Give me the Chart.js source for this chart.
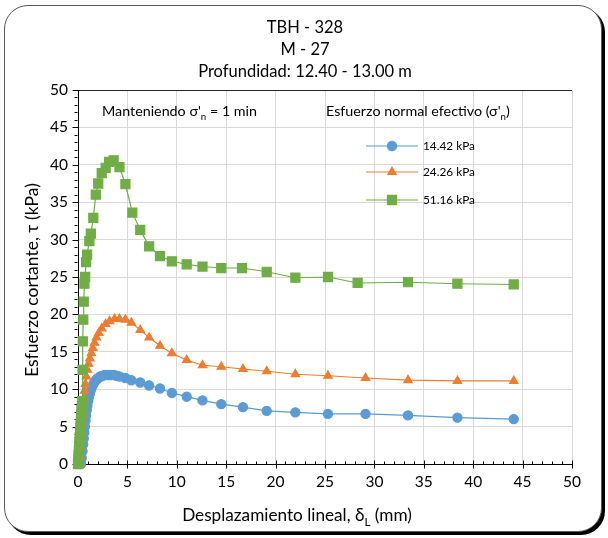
<!DOCTYPE html>
<html>
<head>
<meta charset="utf-8">
<script src="https://cdn.jsdelivr.net/npm/chart.js@4/dist/chart.umd.min.js"></script>
<style>
  html, body { margin: 0; padding: 0; background: #fff; }
  #marco {
    position: absolute; left: 4px; top: 5px; width: 596px; height: 525px;
    border: 1px solid #595959; border-radius: 24px;
    box-shadow: 3px 3px 0 #000; background: #fff;
  }
  #grafico { position: absolute; left: 0; top: 0; }
</style>
</head>
<body>
<div id="marco"></div>
<canvas id="grafico" width="608" height="538"></canvas>
<script>
// Esfuerzo normal efectivo 14.42 kPa
const desp14 = [0.30, 0.38, 0.45, 0.52, 0.58, 0.64, 0.70, 0.76, 0.82, 0.88, 0.95, 1.02, 1.10, 1.20, 1.30, 1.42, 1.55, 1.70, 1.87, 2.05, 2.25, 2.48, 2.72, 3.00, 3.30, 3.60, 3.90, 4.20, 4.80, 5.40, 6.30, 7.20, 8.30, 9.50, 11.0, 12.6, 14.5, 16.7, 19.1, 22.0, 25.3, 29.1, 33.4, 38.4, 44.1];
const tau14  = [0.0, 0.8, 1.7, 2.6, 3.4, 4.2, 5.0, 5.8, 6.5, 7.2, 7.8, 8.4, 8.9, 9.4, 9.9, 10.3, 10.7, 11.0, 11.3, 11.5, 11.7, 11.8, 11.9, 11.9, 11.9, 11.9, 11.8, 11.7, 11.5, 11.2, 10.9, 10.5, 10.1, 9.5, 9.0, 8.5, 8.0, 7.6, 7.1, 6.9, 6.7, 6.7, 6.5, 6.2, 6.0];

// 24.26 kPa
const desp24 = [0.20, 0.25, 0.30, 0.35, 0.40, 0.45, 0.50, 0.55, 0.60, 0.67, 0.75, 0.85, 0.95, 1.07, 1.20, 1.35, 1.50, 1.67, 1.87, 2.10, 2.40, 2.80, 3.20, 3.70, 4.20, 4.80, 5.40, 6.30, 7.20, 8.30, 9.50, 11.0, 12.6, 14.5, 16.7, 19.1, 22.0, 25.3, 29.1, 33.4, 38.4, 44.1];
const tau24  = [0.0, 1.1, 2.2, 3.3, 4.4, 5.5, 6.6, 7.7, 8.8, 9.8, 10.7, 11.7, 12.6, 13.4, 14.1, 14.8, 15.5, 16.2, 16.9, 17.5, 18.1, 18.7, 19.1, 19.4, 19.4, 19.3, 18.9, 17.9, 16.9, 15.8, 14.8, 13.9, 13.2, 13.0, 12.7, 12.4, 12.0, 11.8, 11.5, 11.2, 11.1, 11.1];

// 51.16 kPa
const desp51 = [0.00, 0.03, 0.06, 0.09, 0.12, 0.15, 0.18, 0.21, 0.24, 0.27, 0.30, 0.33, 0.36, 0.40, 0.43, 0.46, 0.49, 0.53, 0.58, 0.65, 0.72, 0.82, 0.92, 1.15, 1.30, 1.55, 1.80, 2.05, 2.40, 2.80, 3.15, 3.60, 4.20, 4.80, 5.50, 6.30, 7.20, 8.30, 9.50, 11.0, 12.6, 14.5, 16.6, 19.1, 22.0, 25.3, 28.3, 33.4, 38.4, 44.1];
const tau51  = [0.0, 0.6, 1.2, 1.8, 2.4, 3.0, 3.6, 4.2, 4.8, 5.4, 6.0, 6.6, 7.2, 7.8, 8.4, 12.6, 16.4, 19.3, 21.7, 24.1, 25.0, 27.0, 28.0, 29.8, 30.8, 32.9, 36.0, 37.5, 38.9, 39.6, 40.4, 40.6, 39.7, 37.4, 33.6, 31.3, 29.1, 27.8, 27.1, 26.7, 26.4, 26.2, 26.2, 25.7, 24.9, 25.0, 24.2, 24.3, 24.1, 24.0];

const etiquetas = ['14.42 kPa', '24.26 kPa', '51.16 kPa'];
const titulos = ['TBH - 328', 'M - 27', 'Profundidad: 12.40 - 13.00 m'];

const FUENTE = 'Lato, "Open Sans", sans-serif';

function puntos(xs, ys) {
  return xs.map((v, i) => ({ x: v, y: ys[i] }));
}

// texto con subindices: partes = [[texto, esSub], ...]
function textoRico(ctx, partes, x, y, tam, alinear) {
  let ancho = 0;
  partes.forEach(([t, sub]) => {
    ctx.font = (sub ? tam * 0.68 : tam) + 'px ' + FUENTE;
    ancho += ctx.measureText(t).width;
  });
  let cx = alinear === 'center' ? x - ancho / 2 : x;
  ctx.textAlign = 'left';
  ctx.textBaseline = 'alphabetic';
  partes.forEach(([t, sub]) => {
    ctx.font = (sub ? tam * 0.68 : tam) + 'px ' + FUENTE;
    ctx.fillText(t, cx, sub ? y + tam * 0.3 : y);
    cx += ctx.measureText(t).width;
  });
}

const extras = {
  id: 'extras',
  beforeDatasetsDraw(chart) {
    const { ctx, scales: { x, y } } = chart;
    ctx.save();
    ctx.strokeStyle = '#000';
    ctx.lineWidth = 1;
    ctx.beginPath();
    const by = Math.round(y.bottom) + 0.5;
    const lx = Math.round(x.left) - 0.5;
    for (let v = 0; v <= 50; v++) {
      const mayor = v % 5 === 0;
      const px = Math.round(x.getPixelForValue(v)) + 0.5;
      if (mayor) { ctx.moveTo(px, by - 4); ctx.lineTo(px, by + 4); }
      else { ctx.moveTo(px, by - 3); ctx.lineTo(px, by); }
      const py = Math.round(y.getPixelForValue(v)) + 0.5;
      if (mayor) { ctx.moveTo(lx - 5, py); ctx.lineTo(lx + 1, py); }
      else { ctx.moveTo(lx - 3, py); ctx.lineTo(lx, py); }
    }
    ctx.stroke();
    ctx.restore();
  },
  afterDraw(chart) {
    const { ctx, chartArea: a } = chart;
    ctx.save();
    ctx.fillStyle = '#000';

    // titulo
    ctx.font = '16.5px ' + FUENTE;
    ctx.textAlign = 'center';
    ctx.textBaseline = 'middle';
    titulos.forEach((t, i) => ctx.fillText(t, 305, 28 + i * 22));

    // eje x
    textoRico(ctx, [['Desplazamiento lineal, δ', false], ['L', true], [' (mm)', false]], 297, 521, 17.2, 'center');

    // eje y
    ctx.save();
    ctx.translate(32, 280);
    ctx.rotate(-Math.PI / 2);
    ctx.font = '17.5px ' + FUENTE;
    ctx.textAlign = 'center';
    ctx.textBaseline = 'middle';
    ctx.fillText('Esfuerzo cortante, τ (kPa)', 0, 0);
    ctx.restore();

    // anotaciones
    textoRico(ctx, [['Manteniendo σ\'', false], ['n', true], [' = 1 min', false]], a.left + 24, 116, 14.3, 'left');
    textoRico(ctx, [['Esfuerzo normal efectivo (σ\'', false], ['n', true], [')', false]], a.left + 248, 116, 14.3, 'left');

    // leyenda
    const ds = chart.data.datasets;
    const yLey = [146, 172, 200];
    ds.forEach((d, i) => {
      const yl = yLey[i];
      ctx.strokeStyle = d.borderColor;
      ctx.lineWidth = 1.2;
      ctx.beginPath();
      ctx.moveTo(366, yl);
      ctx.lineTo(418, yl);
      ctx.stroke();
      ctx.fillStyle = d.pointBackgroundColor;
      ctx.strokeStyle = d.pointBackgroundColor;
      Chart.helpers.drawPoint(ctx, { pointStyle: d.pointStyle, radius: d.pointRadius, rotation: 0, borderWidth: 1 }, 392, yl);
      ctx.fillStyle = '#000';
      ctx.font = '11.8px ' + FUENTE;
      ctx.textAlign = 'left';
      ctx.textBaseline = 'middle';
      ctx.fillText(etiquetas[i], 423, yl);
    });
    ctx.restore();
  }
};

const colorGrid = c => (c.tick && c.tick.value === 50 ? '#262626' : '#d9d9d9');

new Chart(document.getElementById('grafico'), {
  type: 'scatter',
  data: {
    datasets: [
      {
        label: etiquetas[0],
        data: puntos(desp14, tau14),
        showLine: true,
        borderColor: '#5b9bd5',
        backgroundColor: '#5b9bd5',
        pointBackgroundColor: '#5b9bd5',
        pointBorderColor: '#5b9bd5',
        borderWidth: 1.2,
        pointStyle: 'circle',
        pointRadius: 4.6,
        order: 2,
        clip: false
      },
      {
        label: etiquetas[1],
        data: puntos(desp24, tau24),
        showLine: true,
        borderColor: '#ed7d31',
        backgroundColor: '#ed7d31',
        pointBackgroundColor: '#ed7d31',
        pointBorderColor: '#ed7d31',
        borderWidth: 1.2,
        pointStyle: 'triangle',
        pointRadius: 4.8,
        order: 1,
        clip: false
      },
      {
        label: etiquetas[2],
        data: puntos(desp51, tau51),
        showLine: true,
        borderColor: '#70ad47',
        backgroundColor: '#70ad47',
        pointBackgroundColor: '#70ad47',
        pointBorderColor: '#70ad47',
        borderWidth: 1.2,
        pointStyle: 'rect',
        pointRadius: 6.4,
        order: 0,
        clip: false
      }
    ]
  },
  options: {
    responsive: false,
    animation: false,
    layout: { padding: { left: 0, right: 36, top: 90, bottom: 44 } },
    plugins: { legend: { display: false }, tooltip: { enabled: false } },
    scales: {
      x: {
        type: 'linear', min: 0, max: 50,
        ticks: { stepSize: 5, padding: 9, color: '#000', font: { family: FUENTE, size: 15.5 } },
        grid: { color: c => (c.tick && c.tick.value === 0 ? 'rgba(0,0,0,0)' : '#d9d9d9'), lineWidth: 1, drawTicks: false },
        border: { display: true, color: '#000', width: 1 },
        afterFit: s => { s.height = 30; }
      },
      y: {
        type: 'linear', min: 0, max: 50,
        ticks: { stepSize: 5, padding: 10, color: '#000', font: { family: FUENTE, size: 15.5 } },
        grid: { color: colorGrid, lineWidth: 1, drawTicks: false },
        border: { display: true, color: '#000', width: 1 },
        afterFit: s => { s.width = 78; }
      }
    }
  },
  plugins: [extras]
});
</script>
</body>
</html>
